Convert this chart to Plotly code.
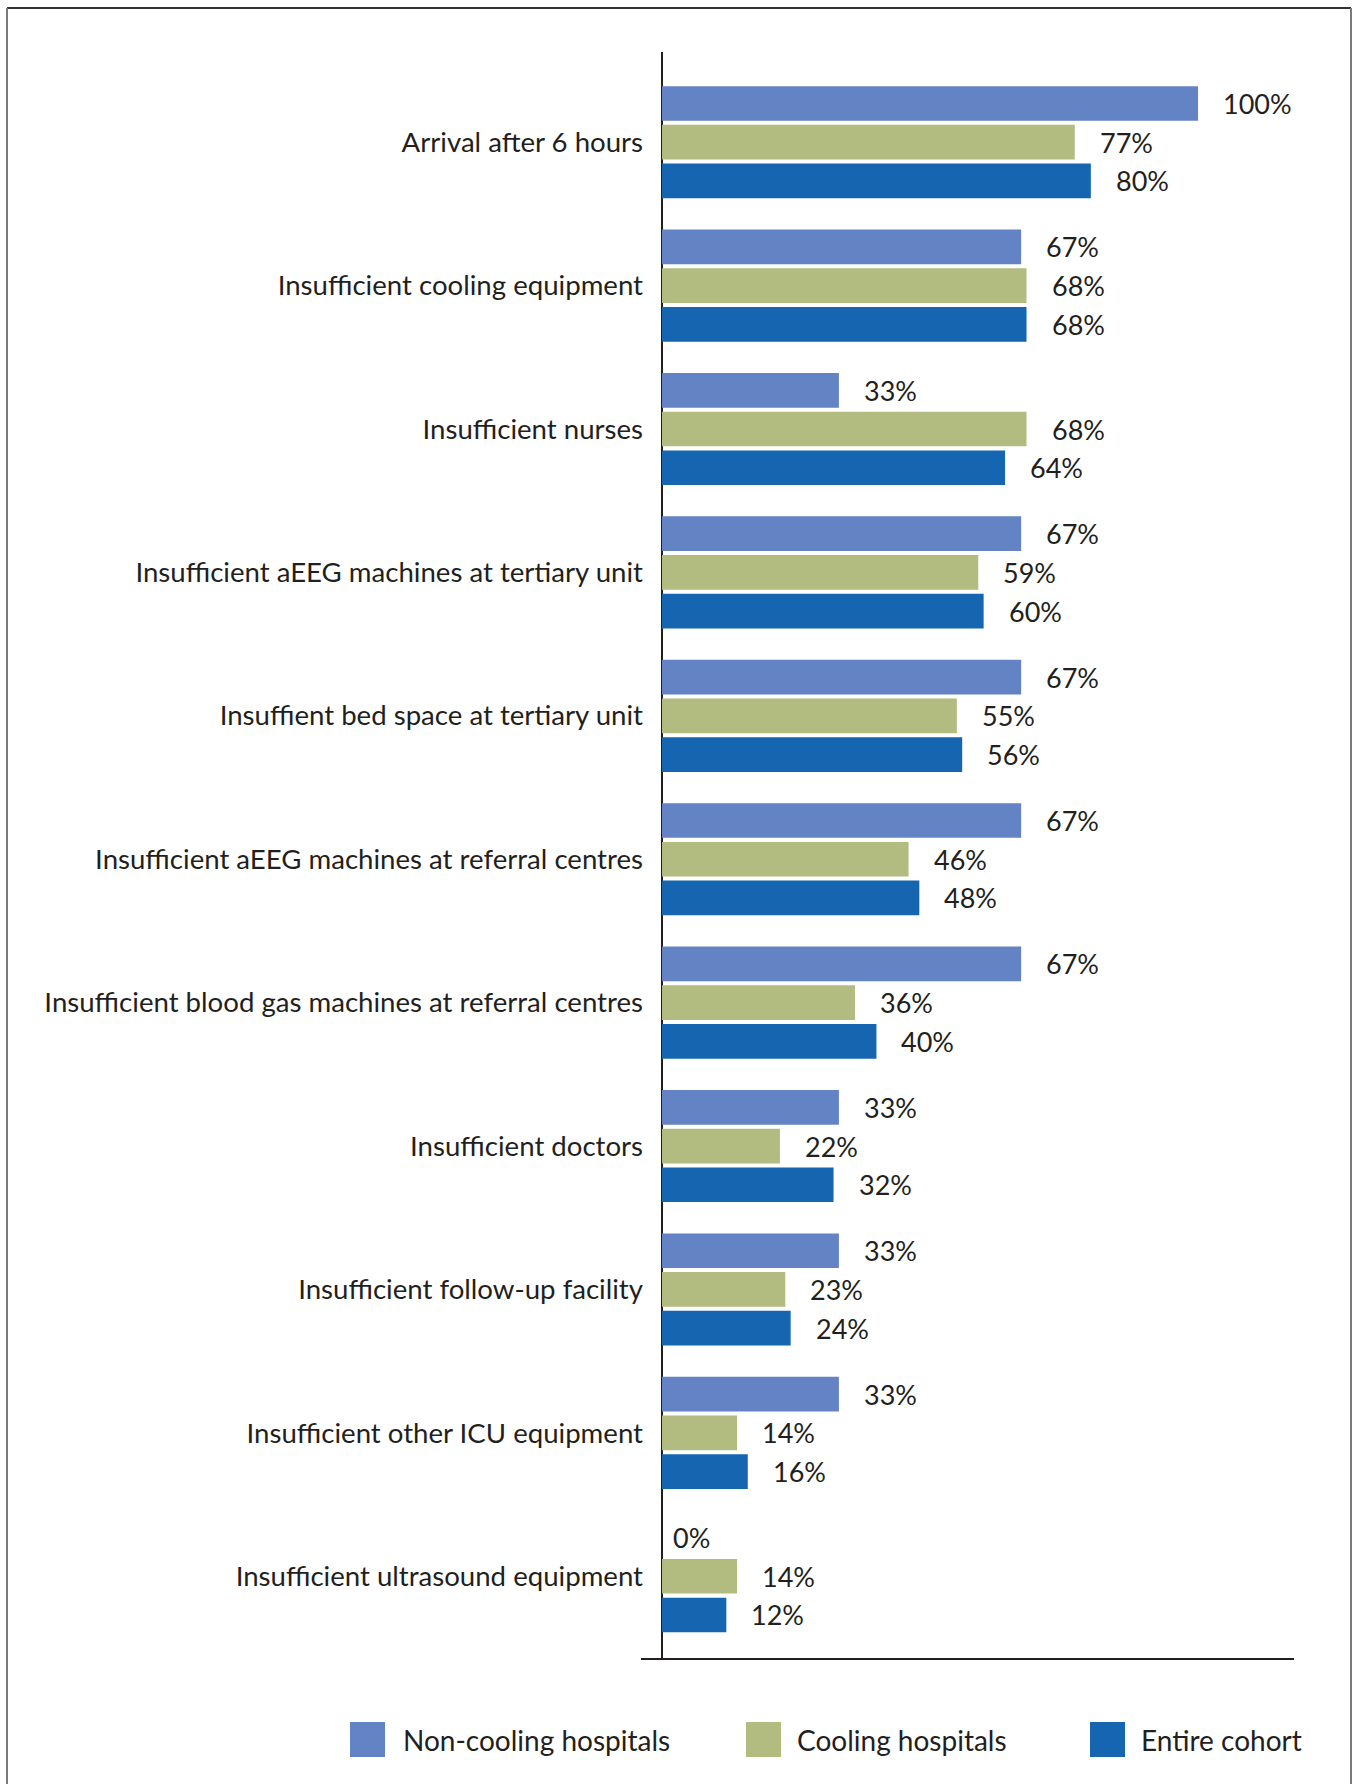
import plotly.graph_objects as go

categories = [
    "Arrival after 6 hours",
    "Insufficient cooling equipment",
    "Insufficient nurses",
    "Insufficient aEEG machines at tertiary unit",
    "Insuffient bed space at tertiary unit",
    "Insufficient aEEG machines at referral centres",
    "Insufficient blood gas machines at referral centres",
    "Insufficient doctors",
    "Insufficient follow-up facility",
    "Insufficient other ICU equipment",
    "Insufficient ultrasound equipment",
]
non_cooling = [100, 67, 33, 67, 67, 67, 67, 33, 33, 33, 0]
cooling = [77, 68, 68, 59, 55, 46, 36, 22, 23, 14, 14]
entire = [80, 68, 64, 60, 56, 48, 40, 32, 24, 16, 12]
series_names = ["Non-cooling hospitals", "Cooling hospitals", "Entire cohort"]
series_values = [non_cooling, cooling, entire]
colors = ["#6383C4", "#B2BC80", "#1565B0"]

FONT = "Lato, sans-serif"
TXT = "#231F20"
FS_TICK = 27.6
FS_VAL = 27
FS_LEG = 28

W, H = 1354, 1784
L, R, T, B = 641, 60, 52, 126
PW, PH = W - L - R, H - T - B


def px(x):
    return (x - L) / PW


def py(y):
    return (H - B - y) / PH


bar_w = 0.242   # bar thickness in category units
slot = 0.27     # spacing between bars within a group

fig = go.Figure()
annotations = []
for k, (name, vals, col) in enumerate(zip(series_names, series_values, colors)):
    center = (k - 1) * slot
    fig.add_trace(go.Bar(
        y=categories, x=vals, orientation="h", name=name,
        marker=dict(color=col, line=dict(width=0)),
        width=bar_w, offset=center - bar_w / 2, showlegend=False,
        hoverinfo="x+y",
    ))
    for i, v in enumerate(vals):
        annotations.append(dict(
            x=v, y=i + center, xref="x", yref="y", text=f"{v}%",
            xanchor="left", yanchor="middle", showarrow=False,
            xshift=23 if v > 0 else 9,
            font=dict(family=FONT, size=FS_VAL, color=TXT),
        ))

# custom legend
legend_marks = [(350, 401), (746, 795), (1090, 1139)]
shapes = []
for (mx, tx), name, col in zip(legend_marks, series_names, colors):
    shapes.append(dict(type="rect", xref="paper", yref="paper",
                       x0=px(mx), x1=px(mx + 35), y0=py(1757), y1=py(1722),
                       fillcolor=col, line=dict(width=0)))
    annotations.append(dict(x=px(tx), y=py(1740), xref="paper", yref="paper",
                            text=name, showarrow=False, xanchor="left",
                            yanchor="middle",
                            font=dict(family=FONT, size=FS_LEG, color=TXT)))

# outer frame
shapes += [
    dict(type="line", xref="paper", yref="paper", x0=px(7), x1=px(1351),
         y0=py(8), y1=py(8), line=dict(color="#333333", width=2)),
    dict(type="line", xref="paper", yref="paper", x0=px(7), x1=px(7),
         y0=py(8), y1=py(1800), line=dict(color="#7a7a7a", width=2)),
    dict(type="line", xref="paper", yref="paper", x0=px(1351), x1=px(1351),
         y0=py(8), y1=py(1800), line=dict(color="#7a7a7a", width=2)),
]

fig.update_layout(
    width=W, height=H,
    margin=dict(l=L, r=R, t=T, b=B, pad=0),
    paper_bgcolor="white", plot_bgcolor="white",
    barmode="overlay",
    font=dict(family=FONT, size=FS_TICK, color=TXT),
    xaxis=dict(range=[-3.92, 117.9], showgrid=False, showticklabels=False,
               ticks="", zeroline=True, zerolinecolor=TXT, zerolinewidth=2,
               showline=True, linecolor=TXT, linewidth=2, fixedrange=True),
    yaxis=dict(type="category", categoryorder="array", categoryarray=categories,
               range=[10.570, -0.629], showgrid=False, zeroline=False,
               showline=False, ticks="", ticklabelstandoff=-3,
               tickfont=dict(family=FONT, size=FS_TICK, color=TXT), fixedrange=True),
    shapes=shapes,
    annotations=annotations,
)

fig.write_html("out.html", config={"displayModeBar": False},
               post_script="document.body.style.margin='0';document.body.style.overflow='hidden';")
